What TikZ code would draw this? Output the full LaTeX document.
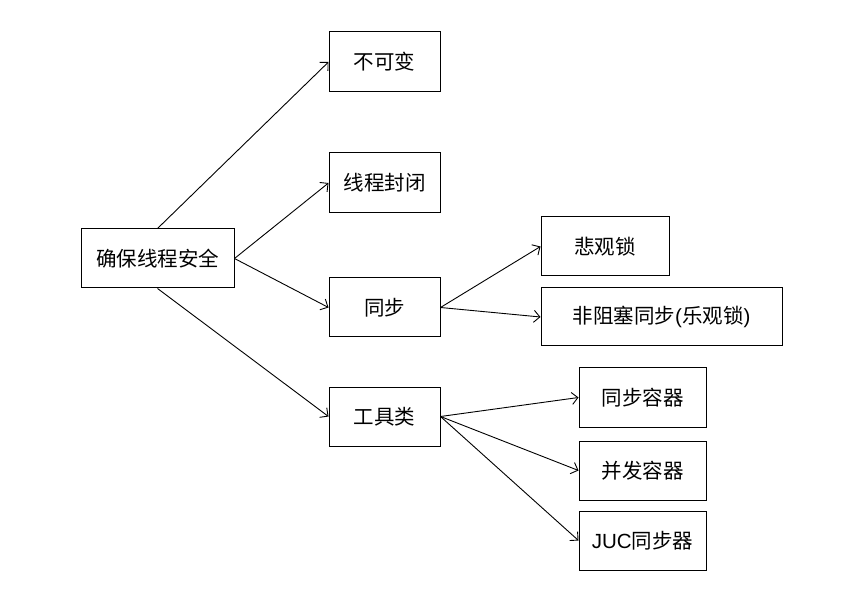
\documentclass[tikz,border=0pt]{standalone}
\usepackage{fontspec}
\setmainfont{Noto Sans CJK SC}
\newfontfamily\latin{Liberation Sans}
\usetikzlibrary{arrows.meta}
\tikzset{
  box/.style={draw=black, line width=1pt, rectangle, inner sep=0pt, minimum height=59pt, font=\fontsize{20.5}{23}\selectfont},
  link/.style={draw=black, line width=0.9pt, -{Straight Barb[length=6pt,width=12pt]}}
}
\begin{document}
\begin{tikzpicture}[x=1pt,y=-1pt]
\useasboundingbox[fill=white] (0,0) rectangle (863,604);
\node[box, minimum width=153pt] (root) at (157.5,258.5) {确保线程安全};
\node[box, minimum width=111pt, minimum height=60pt] (a) at (384.5,62) {不可变};
\node[box, minimum width=111pt, minimum height=60pt] (b) at (384.5,183) {线程封闭};
\node[box, minimum width=111pt] (c) at (384.5,307.5) {同步};
\node[box, minimum width=111pt] (d) at (384.5,416.5) {工具类};
\node[box, minimum width=128pt] (e) at (605,246.5) {悲观锁};
\node[box, minimum width=241pt, minimum height=58pt] (f) at (661.5,317) {非阻塞同步{\latin(}乐观锁{\latin)}};
\node[box, minimum width=127pt] (g) at (642.5,397.5) {同步容器};
\node[box, minimum width=127pt] (h) at (642.5,470.5) {并发容器};
\node[box, minimum width=127pt] (i) at (642.5,540.5) {{\latin JUC}同步器};
\draw[link] (root.north) -- (a.west);
\draw[link] (root.east) -- (b.west);
\draw[link] (root.east) -- (c.west);
\draw[link] (root.south) -- (d.west);
\draw[link] (c.east) -- (e.west);
\draw[link] (c.east) -- (f.west);
\draw[link] (d.east) -- (g.west);
\draw[link] (d.east) -- (h.west);
\draw[link] (d.east) -- (i.west);
\end{tikzpicture}
\end{document}
